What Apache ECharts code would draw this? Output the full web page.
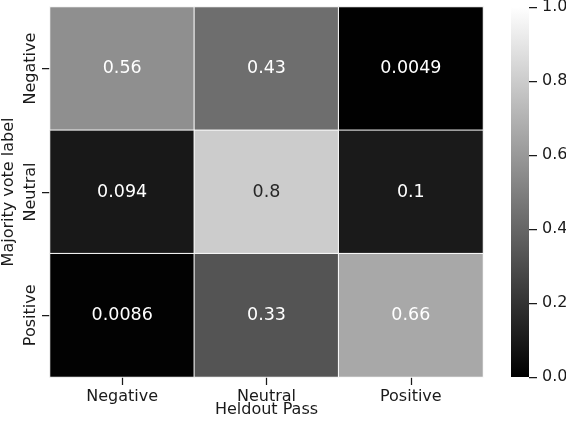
<!DOCTYPE html>
<html>
<head>
<meta charset="utf-8">
<script src="https://cdn.jsdelivr.net/npm/echarts@6/dist/echarts.min.js"></script>
<style>
html,body{margin:0;padding:0;background:#fff;}
#chart{width:566px;height:422px;}
</style>
</head>
<body>
<div id="chart"></div>
<script>
// columns = heldout pass, rows = majority vote label
var passLabels = ['Negative', 'Neutral', 'Positive'];
var voteLabels = ['Negative', 'Neutral', 'Positive'];
var rowNegative = [0.56, 0.43, 0.0049];
var rowNeutral = [0.094, 0.8, 0.1];
var rowPositive = [0.0086, 0.33, 0.66];
var cbarTicks = [0, 0.2, 0.4, 0.6, 0.8, 1.0];

var FONT = 'DejaVu Sans';
var INK = '#1a1a1a';

var rows = [rowNegative, rowNeutral, rowPositive];
var cells = [];
for (var r = 0; r < rows.length; r++) {
    for (var c = 0; c < rows[r].length; c++) {
        var v = rows[r][c];
        cells.push({
            value: [c, r, v],
            label: { color: v > 0.7 ? '#262626' : '#ffffff' }
        });
    }
}

var myChart = echarts.init(document.getElementById('chart'));
var option = {
    backgroundColor: '#fff',
    animation: false,
    grid: [
        { left: 50, right: 83, top: 7, bottom: 45, outerBoundsMode: 'none', containLabel: false },
        { left: 511, width: 18, top: 7, bottom: 45, outerBoundsMode: 'none', containLabel: false }
    ],
    xAxis: [
        {
            type: 'category',
            gridIndex: 0,
            data: passLabels,
            name: 'Heldout Pass',
            nameLocation: 'middle',
            nameGap: 25,
            nameMoveOverlap: false,
            nameTextStyle: { fontFamily: FONT, fontSize: 16, color: INK },
            axisLine: { show: false },
            axisTick: { show: true, alignWithLabel: true, length: 8, lineStyle: { color: INK, width: 1.25 } },
            axisLabel: { fontFamily: FONT, fontSize: 16, color: INK, margin: 12 },
            splitLine: { show: false }
        },
        {
            type: 'category',
            gridIndex: 1,
            data: ['cbar'],
            show: false
        }
    ],
    yAxis: [
        {
            type: 'category',
            gridIndex: 0,
            data: voteLabels,
            inverse: true,
            name: 'Majority vote label',
            nameLocation: 'middle',
            nameGap: 33,
            nameRotate: 90,
            nameMoveOverlap: false,
            nameTextStyle: { fontFamily: FONT, fontSize: 16, color: INK },
            axisLine: { show: false },
            axisTick: { show: true, alignWithLabel: true, length: 8, lineStyle: { color: INK, width: 1.25 } },
            axisLabel: { fontFamily: FONT, fontSize: 16, color: INK, rotate: 90, margin: 11 },
            splitLine: { show: false }
        },
        {
            type: 'value',
            gridIndex: 1,
            min: 0,
            max: 1,
            interval: 0.2,
            position: 'right',
            axisLine: { show: false },
            axisTick: { show: true, length: 8, customValues: cbarTicks, lineStyle: { color: INK, width: 1.25 } },
            axisLabel: {
                fontFamily: FONT, fontSize: 16, color: INK, margin: 13,
                customValues: cbarTicks,
                formatter: function (v) { return v.toFixed(1); }
            },
            splitLine: { show: false }
        }
    ],
    visualMap: {
        show: false,
        seriesIndex: 0,
        dimension: 2,
        min: 0,
        max: 1,
        inRange: { color: ['#000000', '#ffffff'] }
    },
    series: [
        {
            type: 'heatmap',
            xAxisIndex: 0,
            yAxisIndex: 0,
            data: cells,
            itemStyle: { borderColor: '#ffffff', borderWidth: 1 },
            label: {
                show: true,
                fontFamily: FONT,
                fontSize: 17.5,
                formatter: function (p) { return String(p.value[2]); }
            },
            emphasis: { disabled: true }
        },
        {
            // colorbar
            type: 'bar',
            xAxisIndex: 1,
            yAxisIndex: 1,
            data: [1],
            barWidth: '100%',
            silent: true,
            itemStyle: {
                color: new echarts.graphic.LinearGradient(0, 0, 0, 1, [
                    { offset: 0, color: '#ffffff' },
                    { offset: 1, color: '#000000' }
                ])
            }
        }
    ]
};
myChart.setOption(option);
</script>
</body>
</html>
